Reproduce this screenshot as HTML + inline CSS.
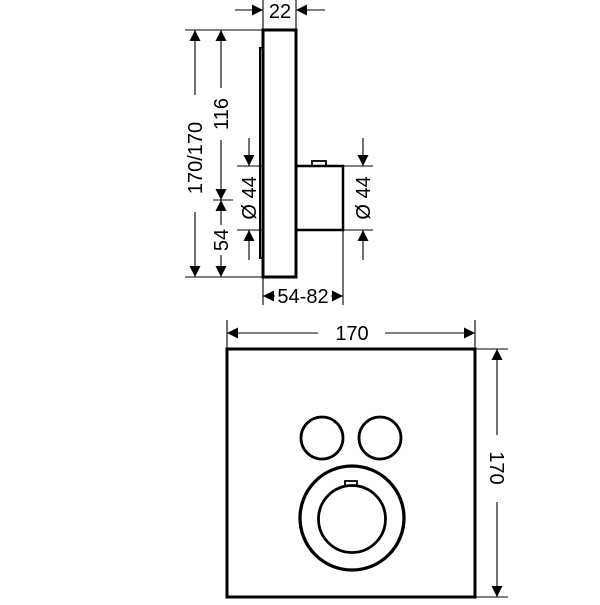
<!DOCTYPE html>
<html><head><style>body{margin:0;background:#fff}</style></head><body>
<svg width="600" height="600" viewBox="0 0 600 600" xmlns="http://www.w3.org/2000/svg" font-family="Liberation Sans, sans-serif" font-size="20">
<defs>
<marker id="a" viewBox="0 0 10 10" refX="10" refY="5" markerWidth="13" markerHeight="11" orient="auto-start-reverse" markerUnits="userSpaceOnUse"><path d="M0,0L10,5L0,10z" fill="#000"/></marker>
</defs>
<g stroke="#000" fill="none">
<rect x="263" y="30" width="33" height="247" stroke-width="3"/>
<path d="M263 48H260V258H263" stroke-width="2"/>
<path d="M297 166H343V230H297" stroke-width="2.5"/>
<rect x="312" y="161" width="14" height="5" stroke-width="1.8"/>
<g stroke-width="1.1">
<line x1="263" y1="0" x2="263" y2="30"/><line x1="296" y1="0" x2="296" y2="30"/>
<line x1="235" y1="10" x2="263" y2="10" marker-end="url(#a)"/>
<line x1="325" y1="10" x2="296" y2="10" marker-end="url(#a)"/>
<line x1="185" y1="30" x2="263" y2="30"/><line x1="185" y1="277" x2="263" y2="277"/>
<line x1="213" y1="200" x2="233" y2="200"/>
<line x1="237" y1="166" x2="263" y2="166"/><line x1="237" y1="230" x2="263" y2="230"/>
<line x1="343" y1="166" x2="373" y2="166"/><line x1="343" y1="230" x2="373" y2="230"/>
<line x1="195" y1="95" x2="195" y2="30" marker-end="url(#a)"/>
<line x1="195" y1="212" x2="195" y2="277" marker-end="url(#a)"/>
<line x1="221" y1="88" x2="221" y2="30" marker-end="url(#a)"/>
<line x1="221" y1="140" x2="221" y2="200" marker-end="url(#a)"/>
<line x1="221" y1="225" x2="221" y2="200" marker-end="url(#a)"/>
<line x1="221" y1="255" x2="221" y2="277" marker-end="url(#a)"/>
<line x1="249" y1="138" x2="249" y2="166" marker-end="url(#a)"/>
<line x1="249" y1="260" x2="249" y2="230" marker-end="url(#a)"/>
<line x1="363" y1="138" x2="363" y2="166" marker-end="url(#a)"/>
<line x1="363" y1="260" x2="363" y2="230" marker-end="url(#a)"/>
<line x1="263" y1="277" x2="263" y2="305"/><line x1="343" y1="230" x2="343" y2="305"/>
<line x1="275" y1="296" x2="263" y2="296" marker-end="url(#a)"/>
<line x1="331" y1="296" x2="343" y2="296" marker-end="url(#a)"/>
</g>
<rect x="227" y="349" width="248" height="248" stroke-width="3"/>
<circle cx="322" cy="438" r="21" stroke-width="2.8"/>
<circle cx="380" cy="438" r="21" stroke-width="2.8"/>
<circle cx="352" cy="518" r="52" stroke-width="3.3"/>
<circle cx="352" cy="519" r="33.5" stroke-width="2.8"/>
<rect x="345" y="481" width="12" height="5" stroke-width="1.8"/>
<g stroke-width="1.1">
<line x1="227" y1="320" x2="227" y2="349"/><line x1="475" y1="320" x2="475" y2="349"/>
<line x1="318" y1="333" x2="227" y2="333" marker-end="url(#a)"/>
<line x1="385" y1="333" x2="475" y2="333" marker-end="url(#a)"/>
<line x1="475" y1="349" x2="508" y2="349"/><line x1="475" y1="597" x2="508" y2="597"/>
<line x1="497" y1="435" x2="497" y2="349" marker-end="url(#a)"/>
<line x1="497" y1="502" x2="497" y2="597" marker-end="url(#a)"/>
</g>
</g>
<g fill="#000" text-anchor="middle">
<text x="280" y="18">22</text>
<text x="303" y="303">54-82</text>
<text x="352" y="340">170</text>
<text transform="translate(490,468) rotate(90)">170</text>
<text transform="translate(202,158) rotate(-90)">170/170</text>
<text transform="translate(228,114) rotate(-90)">116</text>
<text transform="translate(228,240) rotate(-90)">54</text>
<text transform="translate(256,198) rotate(-90)">Ø 44</text>
<text transform="translate(370,198) rotate(-90)">Ø 44</text>
</g>
</svg>
</body></html>
